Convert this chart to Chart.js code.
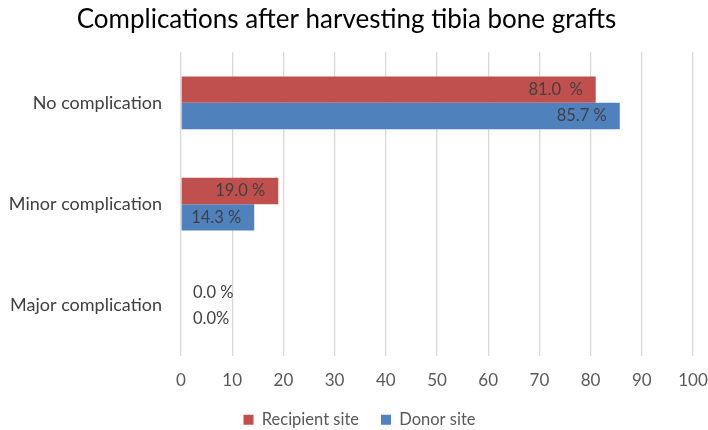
<!DOCTYPE html>
<html>
<head>
<meta charset="utf-8">
<script src="https://cdn.jsdelivr.net/npm/chart.js@4"></script>
<style>
  html, body { margin: 0; padding: 0; background: #fff; }
  #wrap { width: 708px; height: 430px; position: relative; }
</style>
</head>
<body>
<div id="wrap"><canvas id="chart"></canvas></div>
<script>
const categories = ["No complication", "Minor complication", "Major complication"];
const recipientValues = [81.0, 19.0, 0.0];
const donorValues = [85.7, 14.3, 0.0];
const recipientLabels = ["81.0  %", "19.0 %", "0.0 %"];
const donorLabels = ["85.7 %", "14.3 %", "0.0%"];
const xTicks = [0, 10, 20, 30, 40, 50, 60, 70, 80, 90, 100];

const FONT = "Lato, 'Open Sans', sans-serif";

// labels drawn inside the bar end, or just right of the axis when the bar is empty
const barLabels = {
  id: "barLabels",
  afterDatasetsDraw(chart) {
    const ctx = chart.ctx;
    const texts = [recipientLabels, donorLabels];
    ctx.save();
    ctx.font = "16.5px " + FONT;
    ctx.fillStyle = "#404040";
    ctx.textBaseline = "middle";
    chart.data.datasets.forEach((ds, i) => {
      chart.getDatasetMeta(i).data.forEach((bar, j) => {
        const txt = texts[i][j];
        if (ds.data[j] > 0) {
          ctx.textAlign = "right";
          ctx.fillText(txt, bar.x - 13, bar.y);
        } else {
          ctx.textAlign = "left";
          ctx.fillText(txt, bar.base + 12, bar.y);
        }
      });
    });
    ctx.restore();
  }
};

// nudge the legend a little to the right, like the original
const legendShift = {
  id: "legendShift",
  afterLayout(chart) {
    chart.legend.left += 13;
    chart.legend.right += 13;
  }
};

new Chart(document.getElementById("chart"), {
  type: "bar",
  data: {
    labels: categories,
    datasets: [
      { label: "Recipient site", data: recipientValues, backgroundColor: "#C0504D" },
      { label: "Donor site", data: donorValues, backgroundColor: "#4F81BD" }
    ]
  },
  options: {
    indexAxis: "y",
    responsive: true,
    maintainAspectRatio: false,
    animation: false,
    layout: { padding: { left: 0, right: 15, top: 0, bottom: -8 } },
    datasets: { bar: { categoryPercentage: 0.52, barPercentage: 1.0 } },
    scales: {
      x: {
        min: 0,
        max: 100,
        afterBuildTicks: axis => { axis.ticks = xTicks.map(v => ({ value: v })); },
        afterFit: axis => {
          axis.paddingLeft = 0;
          axis.paddingRight = 0;
          axis.height -= 15;
        },
        grid: { color: "#d9d9d9", lineWidth: 1.3, drawTicks: false },
        border: { display: false },
        ticks: { color: "#595959", font: { family: FONT, size: 17 }, padding: 14 }
      },
      y: {
        grid: { display: false },
        border: { display: false },
        afterFit: axis => { axis.width = 181; },
        ticks: { color: "#404040", font: { family: FONT, size: 18 }, padding: 11 }
      }
    },
    plugins: {
      title: {
        display: true,
        text: "Complications after harvesting tibia bone grafts",
        color: "#000",
        font: { family: FONT, size: 26, weight: "normal" },
        padding: { top: 4, bottom: 17 }
      },
      legend: {
        position: "bottom",
        labels: {
          color: "#595959",
          font: { family: FONT, size: 16.5 },
          boxWidth: 10,
          boxHeight: 10,
          padding: 22
        }
      },
      tooltip: { enabled: false }
    }
  },
  plugins: [barLabels, legendShift]
});
</script>
</body>
</html>
